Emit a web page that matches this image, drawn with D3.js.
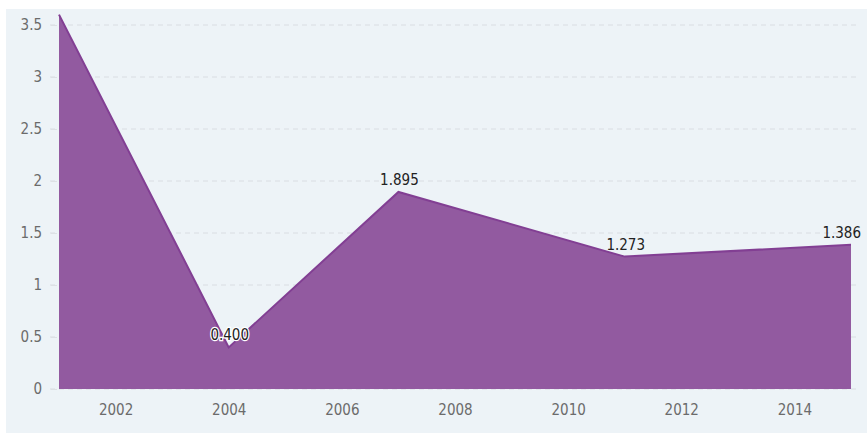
<!DOCTYPE html>
<meta charset="utf-8">
<script src="https://d3js.org/d3.v7.min.js"></script>
<style>
  body { margin: 0; background: #fff; }
  text { font-family: "DejaVu Sans Condensed", "Liberation Sans Narrow", sans-serif; }
</style>
<div id="chart"></div>
<script>

// data
var years  = [2001, 2004, 2007, 2011, 2015];
var values = [3.6, 0.400, 1.895, 1.273, 1.386];
var labels = ["", "0.400", "1.895", "1.273", "1.386"];
var yTicks = [0, 0.5, 1, 1.5, 2, 2.5, 3, 3.5];
var xTicks = [2002, 2004, 2006, 2008, 2010, 2012, 2014];

var width = 867, height = 435;
var margin = {top: 25, right: 16, bottom: 46, left: 59};

var svg = d3.select("#chart")
  .append("svg")
    .attr("width", width)
    .attr("height", height);

// panel background
svg.append("rect")
  .attr("x", 6)
  .attr("y", 9)
  .attr("width", width - 6)
  .attr("height", 424)
  .attr("fill", "#edf3f7");

var x = d3.scaleLinear()
  .domain([2001, 2015])
  .range([margin.left, width - margin.right]);

var y = d3.scaleLinear()
  .domain([0, 3.5])
  .range([389, margin.top]);

// grid lines
svg.append("g")
  .selectAll("line")
  .data(yTicks)
  .enter().append("line")
    .attr("x1", 50)
    .attr("x2", 858)
    .attr("y1", function(d) { return y(d); })
    .attr("y2", function(d) { return y(d); })
    .attr("stroke", "#d9dde2")
    .attr("stroke-dasharray", "5,4");

// area
var area = d3.area()
  .x(function(d, i) { return x(years[i]); })
  .y0(y(0))
  .y1(function(d) { return y(d); });

var line = d3.line()
  .x(function(d, i) { return x(years[i]); })
  .y(function(d) { return y(d); });

svg.append("path")
  .datum(values)
  .attr("d", area)
  .attr("fill", "#925aa0");

svg.append("path")
  .datum(values)
  .attr("d", line)
  .attr("fill", "none")
  .attr("stroke", "#823f93")
  .attr("stroke-width", 2);

// y axis
var yAxis = svg.append("g")
  .attr("transform", "translate(57,0)")
  .call(d3.axisLeft(y).tickValues(yTicks).tickSize(6).tickPadding(9)
    .tickFormat(function(d) { return d; }));
yAxis.select(".domain").remove();
yAxis.selectAll("line").attr("stroke", "#dde1e5");
yAxis.selectAll("text")
  .attr("fill", "#6b6b6b")
  .style("font-size", "15px");

// x axis
var xAxis = svg.append("g")
  .attr("transform", "translate(0,396)")
  .call(d3.axisBottom(x).tickValues(xTicks).tickSize(0).tickPadding(8)
    .tickFormat(d3.format("d")));
xAxis.select(".domain").remove();
xAxis.selectAll("text")
  .attr("fill", "#6b6b6b")
  .style("font-size", "15px");

// value labels
var lab = svg.append("g")
  .selectAll("text")
  .data(values)
  .enter().append("text")
    .attr("x", function(d, i) { return i == 4 ? x(years[i]) + 10 : x(years[i]) + 1; })
    .attr("y", function(d) { return y(d) - 7; })
    .attr("text-anchor", function(d, i) { return i == 4 ? "end" : "middle"; })
    .style("font-size", "15px")
    .attr("fill", "#222")
    .attr("stroke", function(d, i) { return i == 1 ? "#fff" : "none"; })
    .attr("stroke-width", 2.5)
    .attr("paint-order", "stroke")
    .text(function(d, i) { return labels[i]; });

</script>
